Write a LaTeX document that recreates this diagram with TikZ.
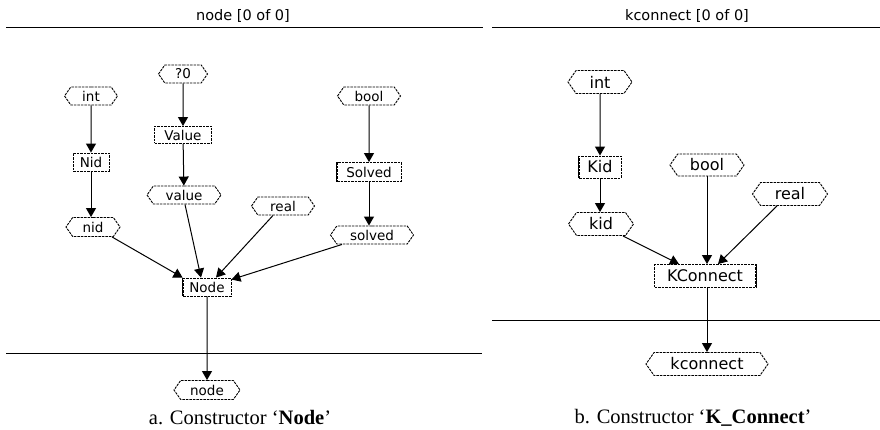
\documentclass[tikz,border=0pt]{standalone}
\usepackage{fontspec}
\setmainfont{Liberation Serif}
\newfontfamily\uifont{DejaVu Sans}
\usetikzlibrary{shapes.symbols,arrows.meta}
\tikzset{
  basebox/.style={draw, dash pattern=on 2.5pt off 1pt, line width=0.9pt, inner sep=0pt},
  lfont/.style={font=\uifont\fontsize{13.5}{13.5}\selectfont},
  rfont/.style={font=\uifont\fontsize{16}{16}\selectfont},
  hexa/.style={basebox, signal, signal to=east and west, signal pointer angle=110},
  rbox/.style={basebox, rectangle},
  conn/.style={line width=1pt, -{Triangle[length=9pt,width=10pt]}},
  sepline/.style={line width=0.9pt},
  titletext/.style={font=\uifont\fontsize{14.5}{14.5}\selectfont},
  captext/.style={font=\fontsize{20.5}{20.5}\selectfont}
}
\begin{document}
\begin{tikzpicture}[x=1pt,y=-1pt]
\useasboundingbox (0,0) rectangle (880,430);
% panel frames
\node[titletext] (ta) at (243,16) {node [0 of 0]};
\node[titletext] (tb) at (687,16) {kconnect [0 of 0]};
\draw[sepline] (6,27) -- (483,27);
\draw[sepline] (492,27) -- (880,27);
\draw[sepline] (6,353) -- (482,353);
\draw[sepline] (492,320) -- (880,320);
% left panel
\begin{scope}[lfont]
\node[hexa, minimum width=53pt, minimum height=18pt] (int) at (91,96) {int};
\node[hexa, minimum width=49pt, minimum height=18pt] (q0) at (183,74) {?0};
\node[rbox, minimum width=57pt, minimum height=17pt] (Value) at (183,135) {Value};
\node[rbox, minimum width=36pt, minimum height=18pt] (Nid) at (91,162) {Nid};
\node[hexa, minimum width=63pt, minimum height=18pt] (bool) at (369,96) {bool};
\node[rbox, minimum width=64pt, minimum height=19pt] (Solved) at (369,172) {Solved};
\node[hexa, minimum width=74pt, minimum height=18pt] (value) at (184,195) {value};
\node[hexa, minimum width=63pt, minimum height=18pt] (real) at (283,206) {real};
\node[hexa, minimum width=54pt, minimum height=19pt] (nid) at (93,227) {nid};
\node[hexa, minimum width=83pt, minimum height=18pt] (solved) at (372,235) {solved};
\node[rbox, minimum width=48pt, minimum height=18pt] (Node) at (207,287) {Node};
\node[hexa, minimum width=66pt, minimum height=19pt] (node) at (207,390) {node};
\end{scope}
\draw[line width=0.9pt] (Node.north west) -- (Node.south west);
\draw[line width=0.9pt] (Solved.north west) -- (Solved.south west);
\draw[conn] (int) -- (Nid);
\draw[conn] (q0) -- (Value);
\draw[conn] (Value) -- (value);
\draw[conn] (Nid.south) -- (Nid.south |- nid.north);
\draw[conn] (bool) -- (Solved);
\draw[conn] (Solved.south) -- (Solved.south |- solved.north);
\draw[conn] ([xshift=19pt]nid.south) -- (Node.north west);
\draw[conn] ([xshift=1pt]value.south) -- ([xshift=-6pt]Node.north);
\draw[conn] ([xshift=-10pt]real.south) -- ([xshift=9pt]Node.north);
\draw[conn] ([xshift=-30pt]solved.south) -- ([yshift=-2pt]Node.north east);
\draw[conn] (Node) -- (node);
% right panel
\begin{scope}[rfont]
\node[hexa, minimum width=64pt, minimum height=23pt] (int2) at (600,82) {int};
\node[rbox, minimum width=42pt, minimum height=22pt] (Kid) at (600,167) {Kid};
\node[hexa, minimum width=74pt, minimum height=22pt] (bool2) at (707,165) {bool};
\node[hexa, minimum width=75pt, minimum height=23pt] (real2) at (790,194) {real};
\node[hexa, minimum width=65pt, minimum height=23pt] (kid) at (601,224) {kid};
\node[rbox, minimum width=101pt, minimum height=23pt] (KConnect) at (705,276) {KConnect};
\node[hexa, minimum width=122pt, minimum height=23pt] (kconnect) at (707,364) {kconnect};
\end{scope}
\draw[line width=0.9pt] (Kid.north west) -- (Kid.south west);
\draw[line width=0.9pt] (KConnect.north east) -- (KConnect.south east);
\draw[conn] (int2) -- (Kid);
\draw[conn] (Kid.south) -- (Kid.south |- kid.north);
\draw[conn] ([xshift=22pt]kid.south) -- ([xshift=-26pt]KConnect.north);
\draw[conn] (bool2.south) -- (bool2.south |- KConnect.north);
\draw[conn] ([xshift=-13pt]real2.south) -- ([xshift=13pt]KConnect.north);
\draw[conn] (KConnect.south -| kconnect.north) -- (kconnect.north);
% captions
\node[captext] (capa) at (240,418) {a. Constructor `\textbf{Node}'};
\node[captext] (capb) at (693,418) {b. Constructor `\textbf{K\_Connect}'};
\end{tikzpicture}
\end{document}
